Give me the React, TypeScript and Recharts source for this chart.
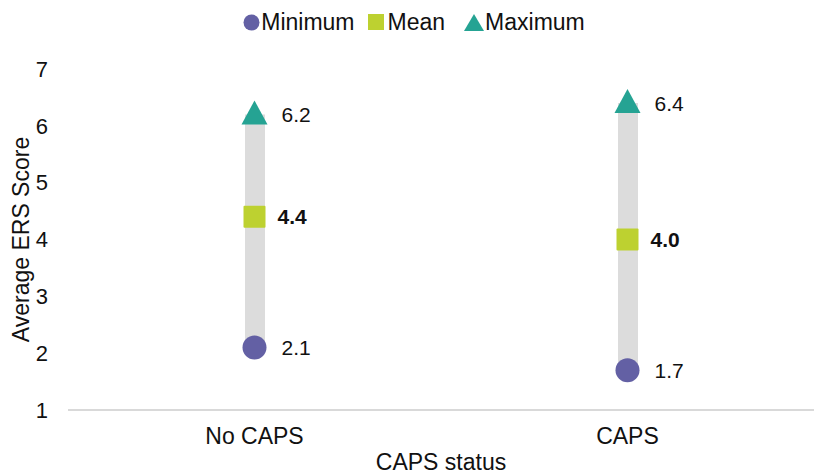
import { Bar, ComposedChart, Legend, Scatter, XAxis, YAxis, Label } from 'recharts'

const categories = ['No CAPS', 'CAPS']
const minimum = [2.1, 1.7]
const mean = [4.4, 4.0]
const maximum = [6.2, 6.4]
const yTicks = [1, 2, 3, 4, 5, 6, 7]

const data = categories.map((name, i) => ({
    name,
    range: [minimum[i], maximum[i]],
    min: minimum[i],
    mean: mean[i],
    max: maximum[i],
}))

const FONT = '"Liberation Sans", Arial, Helvetica, sans-serif'
const PURPLE = '#6360a4'
const GREEN = '#bdd130'
const TEAL = '#25a393'
const INK = '#111'

const Circle = (props: any) => {
    const { cx, cy, payload } = props
    return (
        <g>
            <circle cx={cx} cy={cy} r={12} fill={PURPLE} />
            <text x={cx + 27} y={cy} dominantBaseline="central" fontSize={21} fill={INK}>
                {payload.min.toFixed(1)}
            </text>
        </g>
    )
}

const Square = (props: any) => {
    const { cx, cy, payload } = props
    return (
        <g>
            <rect x={cx - 11} y={cy - 11} width={22} height={22} rx={1} fill={GREEN} />
            <text x={cx + 23} y={cy} dominantBaseline="central" fontSize={21} fontWeight="bold" fill={INK}>
                {payload.mean.toFixed(1)}
            </text>
        </g>
    )
}

const Triangle = (props: any) => {
    const { cx, cy, payload } = props
    return (
        <g>
            <path d={`M${cx},${cy - 14} L${cx + 13},${cy + 10} L${cx - 13},${cy + 10} Z`} fill={TEAL} />
            <text x={cx + 27} y={cy} dominantBaseline="central" fontSize={21} fill={INK}>
                {payload.max.toFixed(1)}
            </text>
        </g>
    )
}

const LegendContent = () => (
    <div style={{ display: 'flex', justifyContent: 'center', alignItems: 'center', fontFamily: FONT, fontSize: 23, color: INK, height: 30, paddingLeft: 14 }}>
        <svg width={17} height={17} style={{ marginRight: 1 }}><circle cx={8.5} cy={8.5} r={8} fill={PURPLE} /></svg>
        <span style={{ marginRight: 13 }}>Minimum</span>
        <svg width={16} height={16} style={{ marginRight: 4 }}><rect x={0} y={0} width={16} height={16} fill={GREEN} /></svg>
        <span style={{ marginRight: 19 }}>Mean</span>
        <svg width={20} height={17} style={{ marginRight: 1 }}><path d="M10,0 L20,17 L0,17 Z" fill={TEAL} /></svg>
        <span>Maximum</span>
    </div>
)

const YTitle = (props: any) => {
    const { viewBox } = props
    const cy = viewBox.y + viewBox.height / 2
    return (
        <text x={21} y={cy} transform={`rotate(-90, 21, ${cy})`} textAnchor="middle" dominantBaseline="central" fontSize={23} fill={INK}>
            Average ERS Score
        </text>
    )
}

const XTitle = (props: any) => {
    const { viewBox } = props
    const cx = viewBox.x + viewBox.width / 2
    return (
        <text x={cx} y={462} textAnchor="middle" dominantBaseline="central" fontSize={23} fill={INK}>
            CAPS status
        </text>
    )
}

export default function App() {
    return (
        <div style={{ position: 'absolute', left: 0, top: 0, width: 814, height: 476, fontFamily: FONT }}>
            <ComposedChart
                width={814}
                height={476}
                data={data}
                margin={{ top: 39, right: 0, bottom: 2, left: 0 }}
                style={{ fontFamily: FONT }}
            >
                <Legend verticalAlign="top" content={<LegendContent />} wrapperStyle={{ top: 7 }} />
                <XAxis
                    dataKey="name"
                    height={64}
                    tickLine={false}
                    axisLine={{ stroke: '#d9d9d9', strokeWidth: 2 }}
                    tick={{ fill: INK, fontSize: 23 }}
                    tickMargin={12}
                >
                    <Label content={<XTitle />} />
                </XAxis>
                <YAxis
                    domain={[1, 7]}
                    ticks={yTicks}
                    width={68}
                    axisLine={false}
                    tickLine={false}
                    tickMargin={14}
                    tick={{ fill: INK, fontSize: 22 }}
                >
                    <Label content={<YTitle />} />
                </YAxis>
                <Bar dataKey="range" barSize={20} fill="#dcdcdc" isAnimationActive={false} />
                <Scatter dataKey="min" shape={Circle} isAnimationActive={false} />
                <Scatter dataKey="mean" shape={Square} isAnimationActive={false} />
                <Scatter dataKey="max" shape={Triangle} isAnimationActive={false} />
            </ComposedChart>
        </div>
    )
}
